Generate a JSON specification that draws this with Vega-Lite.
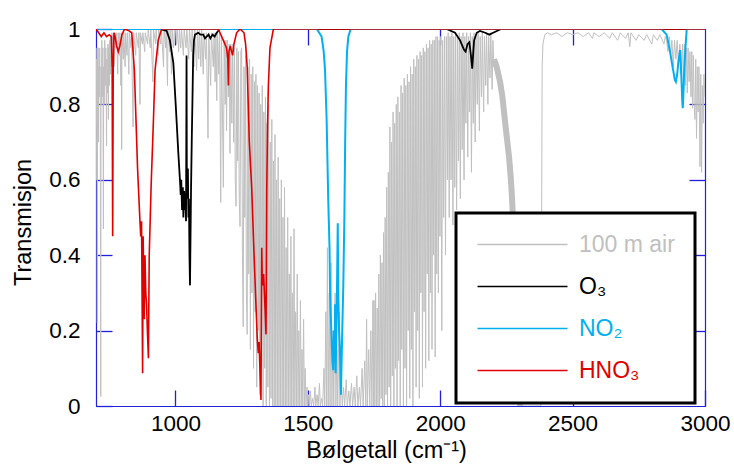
{
"$schema": "https://vega.github.io/schema/vega-lite/v6.json",
"width": 609, "height": 377,
"autosize": {"type": "none"},
"padding": {"left": 96, "top": 29, "right": 29, "bottom": 58},
"background": "white",
"config": {
 "view": {"stroke": "#2020dd", "strokeWidth": 1},
 "font": "Liberation Sans",
 "axis": {"domainColor": "#2020dd", "tickColor": "#2020dd", "grid": false, "labelFont": "Liberation Sans", "labelFontSize": 22.5, "labelColor": "black", "titleFont": "Liberation Sans", "titleFontSize": 23.5, "titleFontWeight": "normal", "titleColor": "black", "tickSize": -16, "zindex": 1, "labelFlush": false, "domainWidth": 1.2, "tickWidth": 1.3}
},
"datasets": {
"air": [
{"w":700,"t":0.9},{"w":701,"t":0.6},{"w":702,"t":0.92},{"w":703,"t":0.75},{"w":704,"t":0.95},{"w":705,"t":0.22},{"w":706,"t":0.9},{"w":707,"t":0.8},{"w":708,"t":0.95},{"w":709,"t":0.7},{"w":710,"t":0.9},{"w":712,"t":0.82},{"w":714,"t":0.95},{"w":716,"t":0.78},{"w":718,"t":0.025},{"w":719,"t":0.9},{"w":721,"t":0.8},{"w":722,"t":0.97},{"w":724,"t":0.82},{"w":726,"t":0.95},{"w":728,"t":0.47},{"w":729,"t":0.9},{"w":731,"t":0.8},{"w":733,"t":0.97},{"w":735,"t":0.85},{"w":737,"t":0.95},{"w":740,"t":0.69},{"w":741,"t":0.92},{"w":743,"t":0.83},{"w":745,"t":0.96},{"w":747,"t":0.76},{"w":748,"t":0.95},{"w":750,"t":0.85},{"w":752,"t":0.97},{"w":754,"t":0.88},{"w":756,"t":0.98},{"w":758,"t":0.9},{"w":760,"t":0.99},
{"w":762,"t":0.98},{"w":765,"t":0.93},{"w":767,"t":0.99},{"w":770,"t":0.9},{"w":772,"t":0.99},{"w":776,"t":0.95},{"w":778,"t":0.99},{"w":782,"t":0.88},{"w":784,"t":0.99},{"w":788,"t":0.93},{"w":790,"t":0.99},{"w":794,"t":0.85},{"w":796,"t":0.99},{"w":797,"t":0.68},{"w":798,"t":0.99},{"w":803,"t":0.92},{"w":805,"t":0.99},{"w":810,"t":0.9},{"w":812,"t":0.99},{"w":817,"t":0.93},{"w":819,"t":0.99},{"w":824,"t":0.88},{"w":826,"t":0.99},{"w":832,"t":0.95},{"w":834,"t":0.99},{"w":840,"t":0.74},{"w":842,"t":0.99},{"w":850,"t":0.93},{"w":852,"t":0.99},{"w":860,"t":0.95},{"w":862,"t":0.99},{"w":866,"t":0.8},{"w":868,"t":0.99},{"w":875,"t":0.96},{"w":877,"t":0.99},{"w":884,"t":0.94},{"w":886,"t":0.99},{"w":895,"t":0.96},{"w":897,"t":1.0},{"w":905,"t":0.95},{"w":907,"t":1.0},{"w":915,"t":0.86},{"w":917,"t":1.0},{"w":925,"t":0.96},{"w":927,"t":1.0},{"w":935,"t":0.93},{"w":937,"t":1.0},{"w":945,"t":0.96},{"w":947,"t":1.0},{"w":955,"t":0.9},{"w":957,"t":1.0},{"w":963,"t":0.95},{"w":965,"t":1.0},{"w":970,"t":0.85},{"w":972,"t":1.0},{"w":978,"t":0.94},{"w":980,"t":1.0},{"w":985,"t":0.88},{"w":987,"t":1.0},{"w":993,"t":0.95},{"w":996,"t":1.0},
{"w":1000,"t":1.0},{"w":1004,"t":0.96},{"w":1007,"t":1.0},{"w":1012,"t":0.94},{"w":1015,"t":1.0},{"w":1020,"t":0.95},{"w":1023,"t":1.0},{"w":1030,"t":0.93},{"w":1033,"t":1.0},{"w":1040,"t":0.95},{"w":1043,"t":1.0},{"w":1050,"t":0.92},{"w":1053,"t":1.0},{"w":1060,"t":0.94},{"w":1063,"t":1.0},{"w":1070,"t":0.9},{"w":1073,"t":1.0},{"w":1080,"t":0.89},{"w":1083,"t":1.0},{"w":1088,"t":0.92},{"w":1091,"t":1.0},{"w":1096,"t":0.9},{"w":1099,"t":1.0},{"w":1105,"t":0.88},{"w":1108,"t":0.99},{"w":1114,"t":0.92},{"w":1117,"t":0.99},{"w":1123,"t":0.71},{"w":1126,"t":0.99},{"w":1133,"t":0.85},{"w":1136,"t":0.99},{"w":1143,"t":0.9},{"w":1146,"t":0.99},{"w":1150,"t":0.86},{"w":1153,"t":0.99},{"w":1156,"t":0.81},{"w":1159,"t":0.99},{"w":1164,"t":0.88},{"w":1167,"t":0.99},{"w":1171,"t":0.54},{"w":1174,"t":0.98},{"w":1178,"t":0.75},{"w":1181,"t":0.58},{"w":1184,"t":0.97},{"w":1188,"t":0.8},{"w":1191,"t":0.97},{"w":1193,"t":0.73},{"w":1196,"t":0.97},{"w":1200,"t":0.82},{"w":1203,"t":0.96},{"w":1206,"t":0.67},{"w":1209,"t":0.96},{"w":1213,"t":0.75},{"w":1216,"t":0.96},{"w":1220,"t":0.7},{"w":1223,"t":0.95},{"w":1226,"t":0.6},{"w":1229,"t":0.53},{"w":1232,"t":0.95},{"w":1235,"t":0.65},{"w":1238,"t":0.94},{"w":1241,"t":0.55},{"w":1244,"t":0.476},{"w":1247,"t":0.94},
{"w":1250,"t":0.95},{"w":1253,"t":0.4},{"w":1256,"t":0.21},{"w":1259,"t":0.9},{"w":1262,"t":0.5},{"w":1265,"t":0.93},{"w":1268,"t":0.3},{"w":1271,"t":0.19},{"w":1274,"t":0.9},{"w":1277,"t":0.35},{"w":1280,"t":0.92},{"w":1283,"t":0.15},{"w":1286,"t":0.88},{"w":1289,"t":0.3},{"w":1292,"t":0.9},{"w":1295,"t":0.1},{"w":1298,"t":0.86},{"w":1301,"t":0.25},{"w":1304,"t":0.88},{"w":1307,"t":0.05},{"w":1310,"t":0.85},{"w":1313,"t":0.2},{"w":1316,"t":0.83},{"w":1319,"t":0.03},{"w":1322,"t":0.8},{"w":1325,"t":0.15},{"w":1328,"t":0.85},{"w":1331,"t":0.0},{"w":1334,"t":0.78},{"w":1337,"t":0.1},{"w":1340,"t":0.82},{"w":1343,"t":0.0},{"w":1346,"t":0.75},{"w":1349,"t":0.05},{"w":1352,"t":0.8},{"w":1355,"t":0.0},{"w":1358,"t":0.7},{"w":1361,"t":0.02},{"w":1364,"t":0.76},{"w":1367,"t":0.0},{"w":1370,"t":0.65},{"w":1373,"t":0.0},{"w":1376,"t":0.72},{"w":1379,"t":0.0},{"w":1382,"t":0.6},{"w":1385,"t":0.0},{"w":1388,"t":0.66},{"w":1391,"t":0.0},{"w":1394,"t":0.55},{"w":1397,"t":0.0},{"w":1400,"t":0.6},{"w":1403,"t":0.0},{"w":1406,"t":0.5},{"w":1409,"t":0.0},{"w":1412,"t":0.58},{"w":1415,"t":0.0},{"w":1418,"t":0.42},{"w":1421,"t":0.0},{"w":1424,"t":0.5},{"w":1427,"t":0.0},{"w":1430,"t":0.35},{"w":1433,"t":0.0},{"w":1436,"t":0.45},{"w":1439,"t":0.0},{"w":1442,"t":0.3},{"w":1445,"t":0.0},{"w":1448,"t":0.47},{"w":1451,"t":0.0},{"w":1454,"t":0.25},{"w":1457,"t":0.0},{"w":1460,"t":0.35},{"w":1463,"t":0.0},{"w":1466,"t":0.2},{"w":1469,"t":0.0},{"w":1472,"t":0.28},{"w":1475,"t":0.0},{"w":1478,"t":0.15},{"w":1481,"t":0.0},{"w":1484,"t":0.23},{"w":1487,"t":0.0},{"w":1490,"t":0.1},{"w":1493,"t":0.0},{"w":1497,"t":0.05},{"w":1500,"t":0.0},
{"w":1503,"t":0.03},{"w":1506,"t":0.0},{"w":1510,"t":0.04},{"w":1513,"t":0.0},{"w":1518,"t":0.02},{"w":1522,"t":0.0},{"w":1527,"t":0.05},{"w":1530,"t":0.0},{"w":1535,"t":0.03},{"w":1539,"t":0.0},{"w":1544,"t":0.06},{"w":1547,"t":0.0},{"w":1552,"t":0.02},{"w":1556,"t":0.0},{"w":1561,"t":0.1},{"w":1564,"t":0.0},{"w":1568,"t":0.25},{"w":1571,"t":0.0},{"w":1574,"t":0.42},{"w":1577,"t":0.0},{"w":1581,"t":0.3},{"w":1584,"t":0.0},{"w":1588,"t":0.38},{"w":1591,"t":0.0},{"w":1595,"t":0.2},{"w":1598,"t":0.0},{"w":1603,"t":0.3},{"w":1606,"t":0.0},{"w":1610,"t":0.15},{"w":1613,"t":0.0},{"w":1618,"t":0.25},{"w":1621,"t":0.0},{"w":1626,"t":0.08},{"w":1630,"t":0.0},{"w":1635,"t":0.05},{"w":1639,"t":0.0},{"w":1645,"t":0.07},{"w":1649,"t":0.0},{"w":1655,"t":0.04},{"w":1659,"t":0.0},{"w":1665,"t":0.06},{"w":1669,"t":0.0},{"w":1675,"t":0.05},{"w":1679,"t":0.0},{"w":1685,"t":0.08},{"w":1689,"t":0.0},{"w":1695,"t":0.05},{"w":1699,"t":0.0},{"w":1705,"t":0.1},{"w":1709,"t":0.0},{"w":1715,"t":0.12},{"w":1719,"t":0.0},{"w":1722,"t":0.23},{"w":1725,"t":0.0},{"w":1730,"t":0.15},{"w":1734,"t":0.0},{"w":1738,"t":0.2},{"w":1742,"t":0.0},{"w":1746,"t":0.28},{"w":1748,"t":0.0},
{"w":1750,"t":0.28},{"w":1753,"t":0.0},{"w":1756,"t":0.3},{"w":1759,"t":0.0},{"w":1762,"t":0.26},{"w":1765,"t":0.0},{"w":1768,"t":0.35},{"w":1771,"t":0.0},{"w":1774,"t":0.4},{"w":1777,"t":0.02},{"w":1780,"t":0.38},{"w":1783,"t":0.0},{"w":1786,"t":0.46},{"w":1789,"t":0.0},{"w":1792,"t":0.5},{"w":1795,"t":0.03},{"w":1798,"t":0.58},{"w":1801,"t":0.0},{"w":1804,"t":0.62},{"w":1807,"t":0.05},{"w":1810,"t":0.74},{"w":1813,"t":0.0},{"w":1816,"t":0.7},{"w":1819,"t":0.08},{"w":1822,"t":0.78},{"w":1825,"t":0.0},{"w":1828,"t":0.75},{"w":1831,"t":0.1},{"w":1834,"t":0.8},{"w":1837,"t":0.0},{"w":1840,"t":0.82},{"w":1843,"t":0.12},{"w":1846,"t":0.78},{"w":1849,"t":0.0},{"w":1852,"t":0.85},{"w":1855,"t":0.15},{"w":1858,"t":0.83},{"w":1861,"t":0.0},{"w":1864,"t":0.87},{"w":1867,"t":0.1},{"w":1870,"t":0.85},{"w":1873,"t":0.0},{"w":1876,"t":0.88},{"w":1879,"t":0.2},{"w":1882,"t":0.86},{"w":1885,"t":0.02},{"w":1888,"t":0.9},{"w":1891,"t":0.15},{"w":1894,"t":0.88},{"w":1897,"t":0.0},{"w":1900,"t":0.92},{"w":1903,"t":0.25},{"w":1906,"t":0.9},{"w":1909,"t":0.05},{"w":1912,"t":0.93},{"w":1915,"t":0.2},{"w":1918,"t":0.92},{"w":1921,"t":0.02},{"w":1924,"t":0.94},{"w":1927,"t":0.3},{"w":1930,"t":0.93},{"w":1933,"t":0.05},{"w":1936,"t":0.95},{"w":1939,"t":0.25},{"w":1942,"t":0.94},{"w":1945,"t":0.1},{"w":1948,"t":0.96},{"w":1951,"t":0.35},{"w":1954,"t":0.95},{"w":1957,"t":0.12},{"w":1960,"t":0.97},{"w":1963,"t":0.3},{"w":1966,"t":0.96},{"w":1969,"t":0.15},{"w":1972,"t":0.97},{"w":1975,"t":0.4},{"w":1978,"t":0.97},{"w":1981,"t":0.13},{"w":1984,"t":0.98},{"w":1987,"t":0.35},{"w":1990,"t":0.98},
{"w":1993,"t":0.3},{"w":1996,"t":0.97},{"w":1999,"t":0.45},{"w":2002,"t":0.98},{"w":2006,"t":0.2},{"w":2009,"t":0.97},{"w":2013,"t":0.5},{"w":2016,"t":0.98},{"w":2020,"t":0.4},{"w":2023,"t":0.98},{"w":2027,"t":0.6},{"w":2030,"t":0.99},{"w":2034,"t":0.5},{"w":2037,"t":0.98},{"w":2041,"t":0.6},{"w":2044,"t":0.99},{"w":2048,"t":0.48},{"w":2051,"t":0.98},{"w":2055,"t":0.58},{"w":2058,"t":0.99},{"w":2062,"t":0.52},{"w":2065,"t":0.98},{"w":2069,"t":0.65},{"w":2072,"t":0.99},{"w":2076,"t":0.55},{"w":2079,"t":0.98},{"w":2083,"t":0.68},{"w":2086,"t":0.99},{"w":2090,"t":0.6},{"w":2093,"t":0.98},{"w":2097,"t":0.75},{"w":2100,"t":0.99},{"w":2104,"t":0.66},{"w":2107,"t":0.98},{"w":2111,"t":0.78},{"w":2114,"t":0.99},{"w":2118,"t":0.62},{"w":2121,"t":0.98},{"w":2125,"t":0.75},{"w":2128,"t":0.99},{"w":2132,"t":0.7},{"w":2135,"t":0.98},{"w":2140,"t":0.8},{"w":2143,"t":0.99},{"w":2148,"t":0.73},{"w":2151,"t":0.98},{"w":2156,"t":0.82},{"w":2159,"t":0.99},{"w":2164,"t":0.78},{"w":2167,"t":0.98},{"w":2172,"t":0.85},{"w":2175,"t":0.99},{"w":2180,"t":0.8},{"w":2183,"t":0.98},{"w":2188,"t":0.87},{"w":2191,"t":0.99},{"w":2196,"t":0.84},{"w":2199,"t":0.97},{"w":2203,"t":0.9},
{"w":2213,"t":0.9},{"w":2226,"t":0.86},{"w":2235,"t":0.82},{"w":2244,"t":0.76},{"w":2252,"t":0.71},{"w":2260,"t":0.66},{"w":2267,"t":0.6},{"w":2272,"t":0.54},{"w":2276,"t":0.48},{"w":2280,"t":0.42},{"w":2284,"t":0.35},{"w":2288,"t":0.27},{"w":2292,"t":0.18},{"w":2296,"t":0.1},{"w":2299,"t":0.04},{"w":2302,"t":0.0},
{"w":2330,"t":0.0},{"w":2380,"t":0.0},{"w":2383,"t":0.5},{"w":2385,"t":0.9},{"w":2388,"t":0.96},{"w":2395,"t":0.985},{"w":2405,"t":0.99},{"w":2420,"t":0.985},{"w":2440,"t":0.99},{"w":2460,"t":0.98},{"w":2480,"t":0.99},{"w":2500,"t":0.985},{"w":2520,"t":0.99},{"w":2540,"t":0.98},{"w":2560,"t":0.99},{"w":2575,"t":0.975},{"w":2580,"t":0.99},{"w":2600,"t":0.98},{"w":2620,"t":0.99},{"w":2640,"t":0.975},{"w":2650,"t":0.99},{"w":2670,"t":0.97},{"w":2680,"t":0.99},{"w":2700,"t":0.975},{"w":2710,"t":0.99},{"w":2716,"t":0.953},{"w":2720,"t":0.99},{"w":2740,"t":0.97},{"w":2750,"t":0.985},{"w":2770,"t":0.97},{"w":2780,"t":0.985},{"w":2799,"t":0.96},{"w":2805,"t":0.985},{"w":2820,"t":0.97},{"w":2830,"t":0.985},{"w":2845,"t":0.96},{"w":2850,"t":0.98},
{"w":2855,"t":0.97},{"w":2860,"t":0.94},{"w":2865,"t":0.98},{"w":2870,"t":0.93},{"w":2875,"t":0.97},{"w":2880,"t":0.9},{"w":2885,"t":0.97},{"w":2890,"t":0.92},{"w":2895,"t":0.97},{"w":2900,"t":0.9},{"w":2905,"t":0.96},{"w":2910,"t":0.88},{"w":2915,"t":0.96},{"w":2918,"t":0.86},{"w":2922,"t":0.96},{"w":2926,"t":0.85},{"w":2929,"t":0.95},{"w":2933,"t":0.83},{"w":2936,"t":0.95},{"w":2940,"t":0.86},{"w":2943,"t":0.94},{"w":2947,"t":0.82},{"w":2950,"t":0.94},{"w":2953,"t":0.79},{"w":2956,"t":0.93},{"w":2959,"t":0.8},{"w":2962,"t":0.76},{"w":2965,"t":0.92},{"w":2968,"t":0.71},{"w":2971,"t":0.9},{"w":2974,"t":0.78},{"w":2977,"t":0.9},{"w":2981,"t":0.635},{"w":2984,"t":0.88},{"w":2987,"t":0.62},{"w":2990,"t":0.85},{"w":2993,"t":0.75},{"w":2996,"t":0.88},{"w":3000,"t":0.82}
],
"band": [
{"w":2203,"t":0.92},{"w":2213,"t":0.9},{"w":2226,"t":0.86},{"w":2235,"t":0.82},{"w":2244,"t":0.76},{"w":2252,"t":0.71},{"w":2260,"t":0.66},{"w":2267,"t":0.6},{"w":2272,"t":0.54},{"w":2276,"t":0.48},{"w":2280,"t":0.42},{"w":2284,"t":0.35},{"w":2288,"t":0.27},{"w":2292,"t":0.18},{"w":2296,"t":0.1},{"w":2299,"t":0.04},{"w":2302,"t":0.0}
],
"o3": [
{"w":700,"t":1.0},{"w":940,"t":1.0},{"w":967,"t":0.995},{"w":979,"t":0.97},{"w":992,"t":0.91},{"w":1001,"t":0.8},{"w":1011,"t":0.67},{"w":1017,"t":0.6},{"w":1020,"t":0.56},{"w":1022,"t":0.6},{"w":1025,"t":0.52},{"w":1028,"t":0.58},{"w":1030,"t":0.5},{"w":1033,"t":0.57},{"w":1036,"t":0.52},{"w":1038,"t":0.55},{"w":1040,"t":0.49},{"w":1041,"t":0.7},{"w":1042,"t":0.93},{"w":1043,"t":0.6},{"w":1045,"t":0.55},{"w":1047,"t":0.63},{"w":1049,"t":0.5},{"w":1051,"t":0.55},{"w":1053,"t":0.4},{"w":1055,"t":0.32},{"w":1057,"t":0.45},{"w":1059,"t":0.58},{"w":1062,"t":0.72},{"w":1064,"t":0.8},{"w":1067,"t":0.93},{"w":1070,"t":0.97},{"w":1074,"t":0.985},{"w":1086,"t":0.99},{"w":1095,"t":0.985},{"w":1105,"t":0.985},{"w":1112,"t":0.975},{"w":1118,"t":0.98},{"w":1125,"t":0.985},{"w":1132,"t":0.975},{"w":1140,"t":0.985},{"w":1148,"t":0.98},{"w":1156,"t":0.99},{"w":1168,"t":1.0},{"w":2024,"t":1.0},{"w":2056,"t":0.99},{"w":2075,"t":0.97},{"w":2090,"t":0.945},{"w":2096,"t":0.94},{"w":2103,"t":0.96},{"w":2110,"t":0.965},{"w":2116,"t":0.93},{"w":2121,"t":0.895},{"w":2125,"t":0.94},{"w":2128,"t":0.97},{"w":2138,"t":0.99},{"w":2150,"t":0.995},{"w":2170,"t":0.99},{"w":2185,"t":0.985},{"w":2200,"t":0.99},{"w":2230,"t":1.0},{"w":3000,"t":1.0}
],
"no2": [
{"w":700,"t":1.0},{"w":1534,"t":1.0},{"w":1552,"t":0.98},{"w":1560,"t":0.94},{"w":1565,"t":0.89},{"w":1571,"t":0.76},{"w":1577,"t":0.55},{"w":1582,"t":0.42},{"w":1584,"t":0.3},{"w":1586,"t":0.25},{"w":1590,"t":0.18},{"w":1593,"t":0.12},{"w":1596,"t":0.095},{"w":1599,"t":0.2},{"w":1601,"t":0.12},{"w":1603,"t":0.27},{"w":1605,"t":0.087},{"w":1608,"t":0.2},{"w":1610,"t":0.3},{"w":1613,"t":0.485},{"w":1615,"t":0.3},{"w":1618,"t":0.2},{"w":1621,"t":0.157},{"w":1623,"t":0.1},{"w":1625,"t":0.03},{"w":1627,"t":0.1},{"w":1630,"t":0.2},{"w":1634,"t":0.32},{"w":1638,"t":0.5},{"w":1641,"t":0.7},{"w":1644,"t":0.85},{"w":1648,"t":0.94},{"w":1653,"t":0.98},{"w":1662,"t":1.0},{"w":2836,"t":1.0},{"w":2855,"t":0.985},{"w":2868,"t":0.94},{"w":2875,"t":0.91},{"w":2880,"t":0.89},{"w":2886,"t":0.865},{"w":2890,"t":0.86},{"w":2895,"t":0.88},{"w":2899,"t":0.91},{"w":2903,"t":0.93},{"w":2906,"t":0.944},{"w":2909,"t":0.9},{"w":2912,"t":0.85},{"w":2914,"t":0.81},{"w":2916,"t":0.79},{"w":2918,"t":0.82},{"w":2921,"t":0.88},{"w":2926,"t":0.95},{"w":2931,"t":1.0},{"w":3000,"t":1.0}
],
"hno3": [
{"w":700,"t":1.0},{"w":710,"t":0.99},{"w":720,"t":0.98},{"w":730,"t":0.99},{"w":740,"t":0.98},{"w":750,"t":0.985},{"w":758,"t":0.98},{"w":761,"t":0.9},{"w":763,"t":0.45},{"w":765,"t":0.9},{"w":768,"t":0.99},{"w":772,"t":0.98},{"w":778,"t":0.955},{"w":784,"t":0.94},{"w":790,"t":0.955},{"w":798,"t":0.985},{"w":808,"t":1.0},{"w":825,"t":0.995},{"w":835,"t":0.99},{"w":845,"t":0.89},{"w":851,"t":0.76},{"w":857,"t":0.63},{"w":866,"t":0.49},{"w":869,"t":0.45},{"w":872,"t":0.49},{"w":874,"t":0.3},{"w":876,"t":0.087},{"w":878,"t":0.45},{"w":880,"t":0.35},{"w":882,"t":0.23},{"w":885,"t":0.4},{"w":888,"t":0.3},{"w":891,"t":0.27},{"w":894,"t":0.2},{"w":898,"t":0.127},{"w":901,"t":0.4},{"w":905,"t":0.5},{"w":908,"t":0.58},{"w":917,"t":0.76},{"w":923,"t":0.89},{"w":935,"t":0.97},{"w":948,"t":1.0},{"w":1162,"t":1.0},{"w":1181,"t":0.97},{"w":1193,"t":0.95},{"w":1198,"t":0.92},{"w":1200,"t":0.85},{"w":1202,"t":0.94},{"w":1207,"t":0.955},{"w":1212,"t":0.94},{"w":1216,"t":0.93},{"w":1221,"t":0.96},{"w":1231,"t":0.99},{"w":1244,"t":1.0},{"w":1259,"t":0.99},{"w":1265,"t":0.96},{"w":1271,"t":0.9},{"w":1275,"t":0.8},{"w":1279,"t":0.7},{"w":1288,"t":0.58},{"w":1297,"t":0.4},{"w":1304,"t":0.27},{"w":1309,"t":0.18},{"w":1313,"t":0.14},{"w":1316,"t":0.17},{"w":1319,"t":0.1},{"w":1323,"t":0.016},{"w":1325,"t":0.3},{"w":1326,"t":0.42},{"w":1328,"t":0.33},{"w":1330,"t":0.32},{"w":1333,"t":0.35},{"w":1336,"t":0.3},{"w":1339,"t":0.25},{"w":1342,"t":0.19},{"w":1345,"t":0.58},{"w":1348,"t":0.75},{"w":1351,"t":0.85},{"w":1357,"t":0.95},{"w":1370,"t":1.0},{"w":3000,"t":1.0}
]
},
"resolve": {"axis": {"x": "independent", "y": "independent"}},
"layer": [
{"data": {"name": "air"}, "mark": {"type": "line", "strokeWidth": 1, "clip": true},
 "encoding": {
  "x": {"field": "w", "type": "quantitative", "scale": {"domain": [700, 3000], "nice": false, "zero": false}, "axis": {"orient": "bottom", "values": [1000,1500,2000,2500,3000], "format": "d", "title": "Bølgetall (cm⁻¹)", "labelPadding": 22, "titleX": 290, "titleY": 51, "titleBaseline": "alphabetic", "titleAlign": "center"}},
  "y": {"field": "t", "type": "quantitative", "scale": {"domain": [0, 1], "nice": false}, "axis": {"orient": "left", "values": [0,0.2,0.4,0.6,0.8,1], "format": "~g", "title": "Transmisjon", "labelPadding": 32, "titleX": -66, "titleY": 193, "titleBaseline": "alphabetic", "titleAlign": "center", "titleAngle": -90}},
  "color": {"datum": "100 m air", "type": "nominal",
   "scale": {"domain": ["100 m air", "O₃", "NO₂", "HNO₃"], "range": ["#c0c0c0", "#000000", "#00b0f0", "#e00000"]},
   "legend": {"orient": "none", "legendX": 360, "legendY": 184, "title": null, "direction": "vertical", "padding": 20, "symbolType": "M-1,0H8", "symbolSize": 400, "symbolStrokeWidth": 1.5, "labelFontSize": 23, "labelFont": "Liberation Sans", "rowPadding": 18, "labelOffset": 80, "labelLimit": 300,
     "encode": {"legend": {"update": {"stroke": {"value": "black"}, "strokeWidth": {"value": 3}, "fill": {"value": "white"}}}, "labels": {"update": {"fill": {"signal": "scale('color', datum.value)"}}}}}},
  "order": {"value": null}
 }},
{"data": {"name": "band"}, "mark": {"type": "line", "strokeWidth": 6, "clip": true},
 "encoding": {
  "x": {"field": "w", "type": "quantitative", "axis": null},
  "y": {"field": "t", "type": "quantitative", "axis": null},
  "color": {"datum": "100 m air", "type": "nominal"},
  "order": {"value": null}
 }},
{"data": {"name": "o3"}, "mark": {"type": "line", "strokeWidth": 1.8, "clip": true},
 "encoding": {
  "x": {"field": "w", "type": "quantitative", "axis": {"orient": "top", "values": [1000,1500,2000,2500], "labels": false, "title": null}},
  "y": {"field": "t", "type": "quantitative", "axis": {"orient": "right", "values": [0.2,0.4,0.6,0.8], "labels": false, "title": null}},
  "color": {"datum": "O₃", "type": "nominal"},
  "order": {"value": null}
 }},
{"data": {"name": "no2"}, "mark": {"type": "line", "strokeWidth": 2, "clip": true},
 "encoding": {
  "x": {"field": "w", "type": "quantitative", "axis": null},
  "y": {"field": "t", "type": "quantitative", "axis": null},
  "color": {"datum": "NO₂", "type": "nominal"},
  "order": {"value": null}
 }},
{"data": {"name": "hno3"}, "mark": {"type": "line", "strokeWidth": 1.6, "clip": true},
 "encoding": {
  "x": {"field": "w", "type": "quantitative", "axis": null},
  "y": {"field": "t", "type": "quantitative", "axis": null},
  "color": {"datum": "HNO₃", "type": "nominal"},
  "order": {"value": null}
 }}
]
}
